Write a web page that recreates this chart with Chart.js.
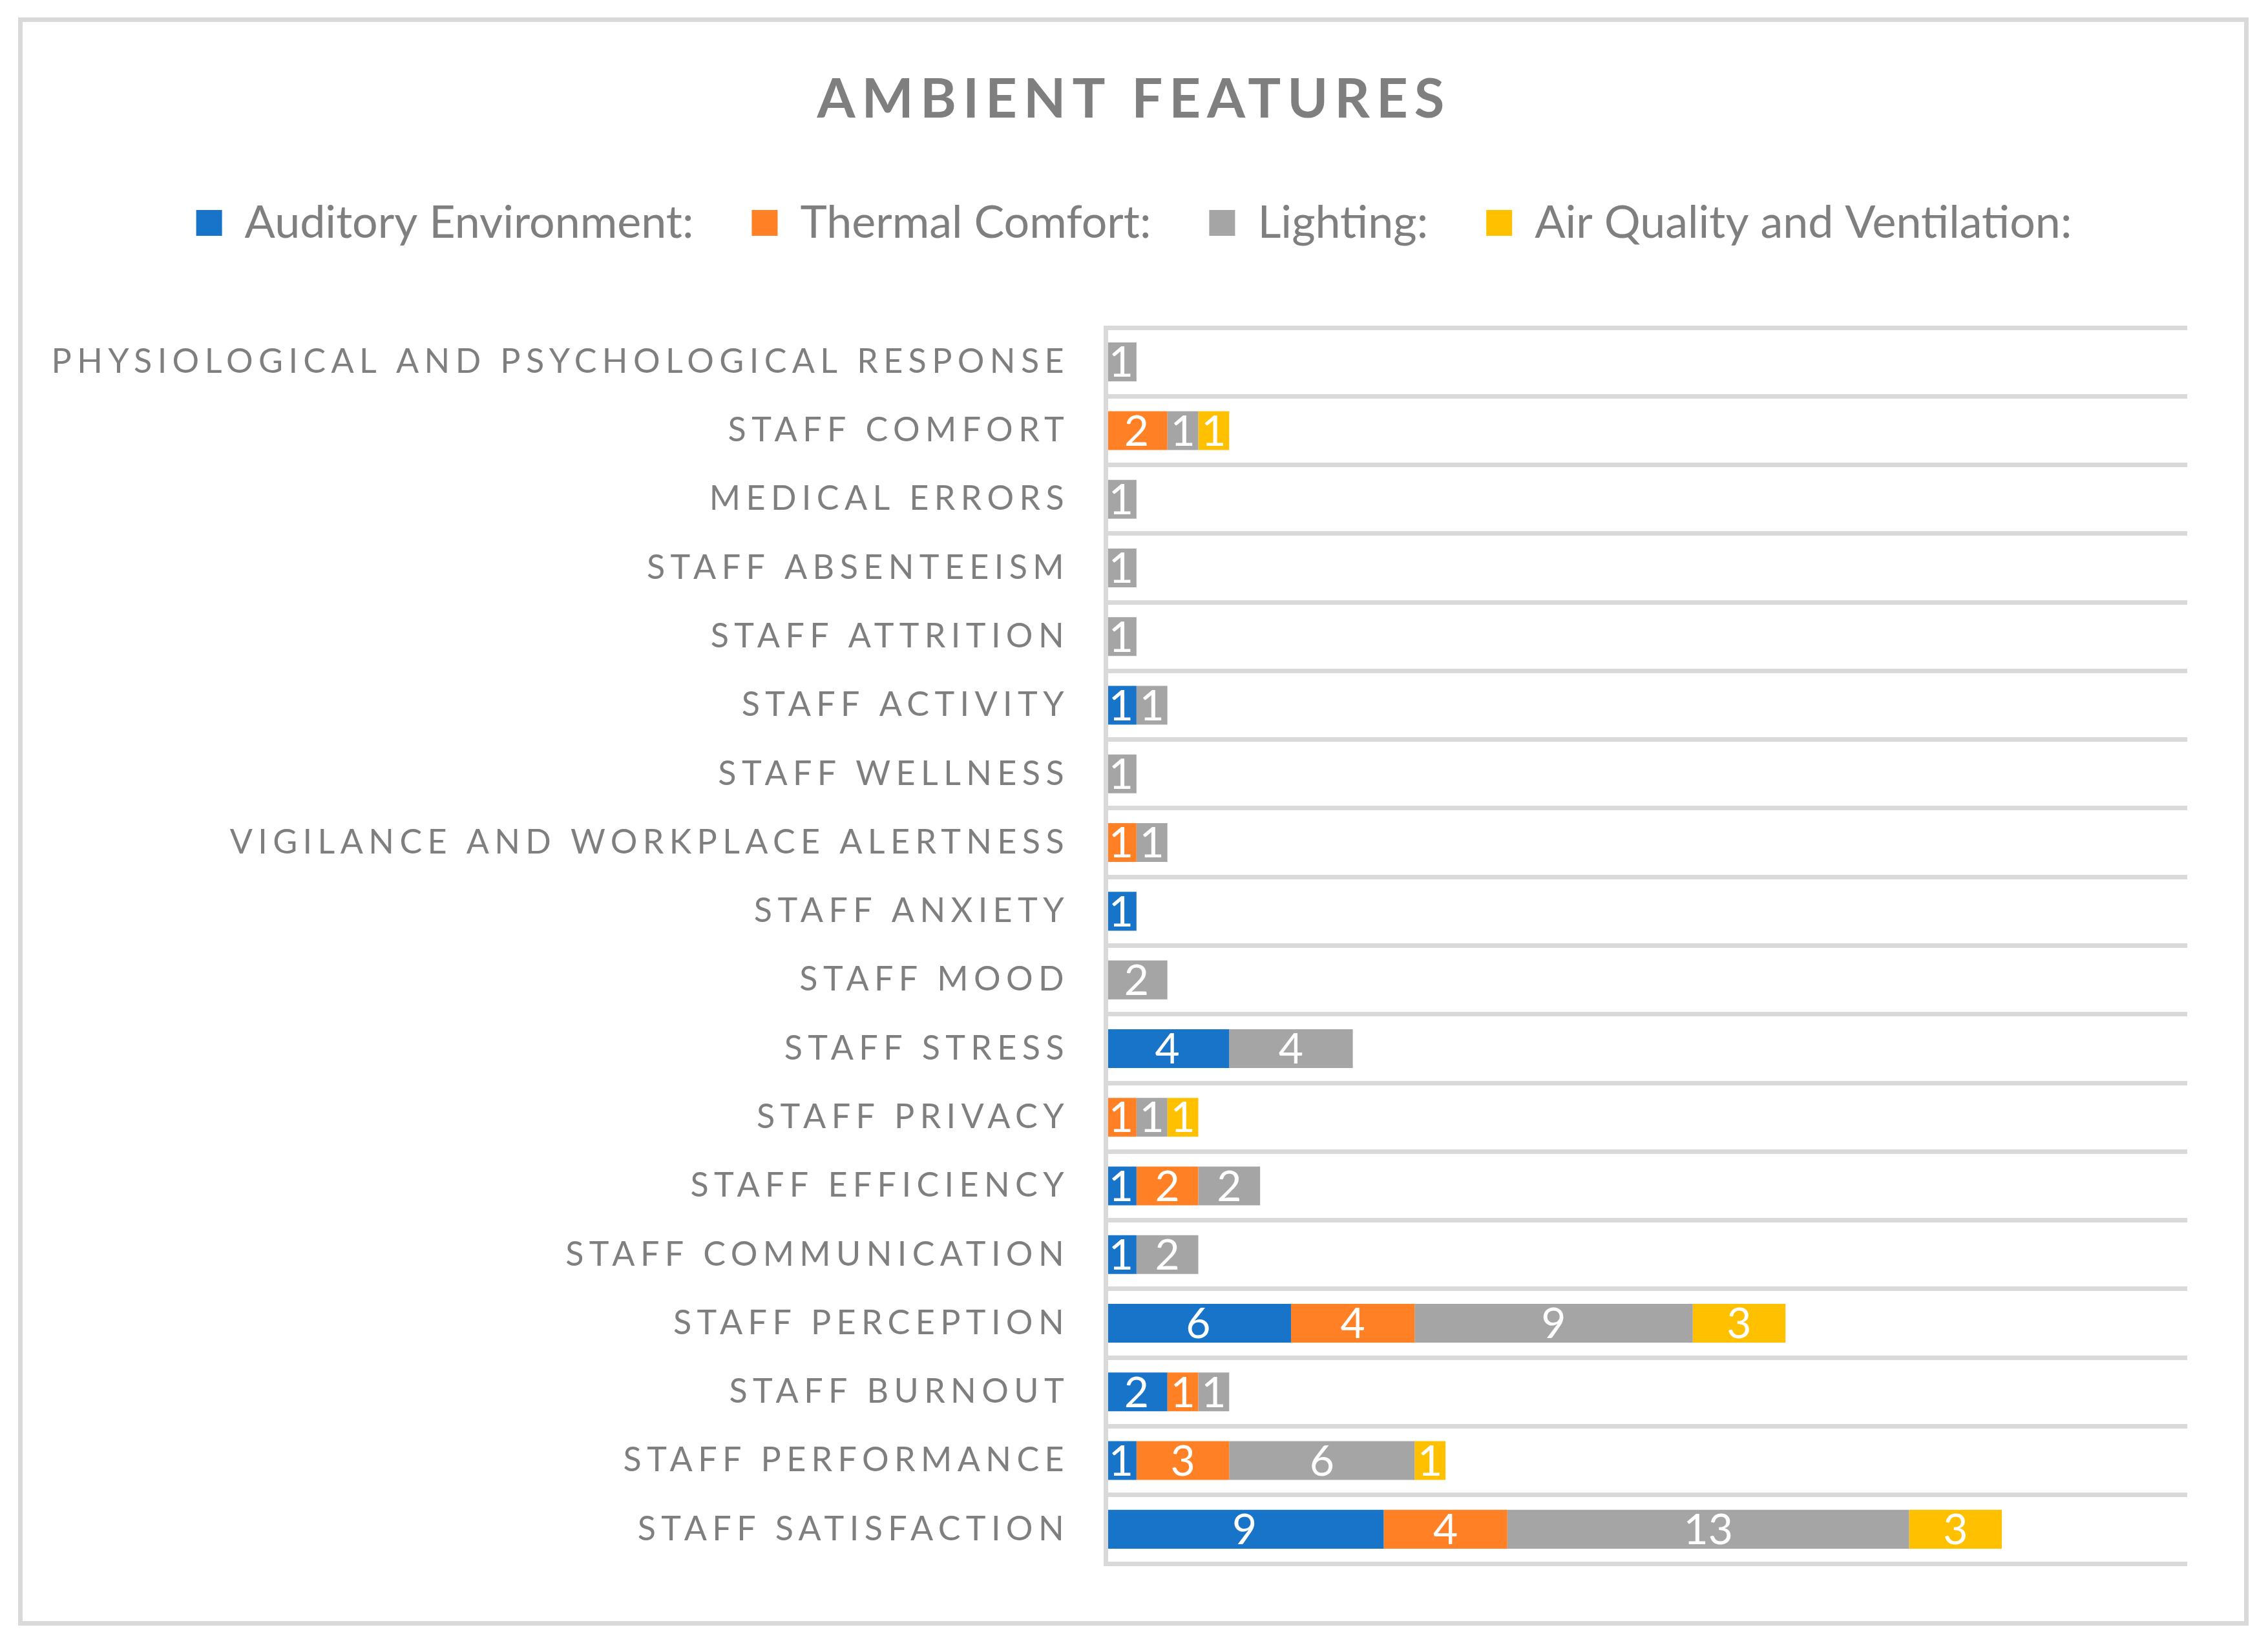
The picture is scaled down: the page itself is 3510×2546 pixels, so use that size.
<!DOCTYPE html>
<html>
<head>
<meta charset="utf-8">
<title>Ambient Features</title>
<script src="https://cdn.jsdelivr.net/npm/chart.js@4.4.1/dist/chart.umd.min.js"></script>
<style>
    html, body { margin: 0; padding: 0; background: #ffffff; }
    #wrap { position: relative; width: 3510px; height: 2546px; }
    #frame {
        position: absolute; left: 28px; top: 27px; width: 3452px; height: 2489px;
        box-sizing: border-box; border: 7px solid #d9d9d9; pointer-events: none;
    }
</style>
</head>
<body>
<div id="wrap">
    <canvas id="bar-chart"></canvas>
    <div id="frame"></div>
</div>
<script>
const categories = [
    'PHYSIOLOGICAL AND PSYCHOLOGICAL RESPONSE',
    'STAFF COMFORT',
    'MEDICAL ERRORS',
    'STAFF ABSENTEEISM',
    'STAFF ATTRITION',
    'STAFF ACTIVITY',
    'STAFF WELLNESS',
    'VIGILANCE AND WORKPLACE ALERTNESS',
    'STAFF ANXIETY',
    'STAFF MOOD',
    'STAFF STRESS',
    'STAFF PRIVACY',
    'STAFF EFFICIENCY',
    'STAFF COMMUNICATION',
    'STAFF PERCEPTION',
    'STAFF BURNOUT',
    'STAFF PERFORMANCE',
    'STAFF SATISFACTION'
];

const seriesNames = ['Auditory Environment:', 'Thermal Comfort:', 'Lighting:', 'Air Quality and Ventilation:'];

const auditory = [0, 0, 0, 0, 0, 1, 0, 0, 1, 0, 4, 0, 1, 1, 6, 2, 1, 9];
const thermal  = [0, 2, 0, 0, 0, 0, 0, 1, 0, 0, 0, 1, 2, 0, 4, 1, 3, 4];
const lighting = [1, 1, 1, 1, 1, 1, 1, 1, 0, 2, 4, 1, 2, 2, 9, 1, 6, 13];
const airQuality = [0, 1, 0, 0, 0, 0, 0, 0, 0, 0, 0, 1, 0, 0, 3, 0, 1, 3];

const colors = ['#1874c9', '#ff8025', '#a5a5a5', '#ffc000'];
const textGray = '#7f7f7f';
const gridGray = '#d9d9d9';
const fontName = 'Lato';

// wrap a draw function so it runs with canvas letter spacing
function withSpacing(ctx, fn, spacing) {
    return function (...args) {
        ctx.save();
        ctx.letterSpacing = spacing;
        fn.apply(this, args);
        ctx.restore();
    };
}

const spacingPlugin = {
    id: 'spacing',
    afterLayout(chart) {
        const yScale = chart.scales.y;
        if (yScale && !yScale._spaced) {
            yScale.drawLabels = withSpacing(chart.ctx, yScale.drawLabels, '8.4px');
            // long labels run past the scale box, so don't clip them
            yScale._computeLabelArea = () => undefined;
            yScale._spaced = true;
        }
        const title = chart.titleBlock;
        if (title && !title._spaced) {
            title.draw = withSpacing(chart.ctx, title.draw, '10px');
            title._spaced = true;
        }
    }
};

// white value labels in the middle of each segment
const valueLabels = {
    id: 'valueLabels',
    afterDatasetsDraw(chart) {
        const ctx = chart.ctx;
        ctx.save();
        ctx.fillStyle = '#ffffff';
        ctx.font = '66px ' + fontName;
        ctx.textAlign = 'center';
        ctx.textBaseline = 'middle';
        chart.data.datasets.forEach((ds, i) => {
            const meta = chart.getDatasetMeta(i);
            meta.data.forEach((bar, j) => {
                const v = ds.data[j];
                if (!v) return;
                const p = bar.getCenterPoint();
                ctx.fillText(String(v), p.x, p.y + 2);
            });
        });
        ctx.restore();
    }
};

const ctx = document.getElementById('bar-chart').getContext('2d');

const barChart = new Chart(ctx, {
    type: 'bar',
    data: {
        labels: categories,
        datasets: [auditory, thermal, lighting, airQuality].map((values, i) => ({
            label: seriesNames[i],
            data: values,
            backgroundColor: colors[i],
            borderWidth: 0,
            barPercentage: 0.565,
            categoryPercentage: 1
        }))
    },
    options: {
        indexAxis: 'y',
        responsive: true,
        maintainAspectRatio: false,
        devicePixelRatio: 1,
        animation: false,
        layout: {
            padding: { top: 0, left: 125, right: 125, bottom: 126 }
        },
        scales: {
            x: {
                position: 'top',
                stacked: true,
                min: 0,
                max: 35,
                grid: { display: false },
                border: { display: false },
                ticks: { display: false },
                // spacer between legend and plot area
                afterFit(scale) { scale.height = 117; }
            },
            y: {
                stacked: true,
                grid: {
                    color: gridGray,
                    lineWidth: 7,
                    offset: true,
                    drawTicks: false
                },
                border: { color: gridGray, width: 7, z: 1 },
                ticks: {
                    color: textGray,
                    autoSkip: false,
                    padding: 56,
                    font: { family: fontName, size: 52 }
                },
                afterFit(scale) { scale.width = 1586; }
            }
        },
        plugins: {
            title: {
                display: true,
                text: 'AMBIENT FEATURES',
                color: textGray,
                font: { family: fontName, size: 85, weight: 'bold', lineHeight: 1.2 },
                padding: { top: 104, bottom: 14 }
            },
            legend: {
                display: true,
                position: 'top',
                labels: {
                    color: textGray,
                    boxWidth: 40,
                    boxHeight: 40,
                    padding: 90,
                    font: { family: fontName, size: 70 }
                }
            },
            tooltip: { enabled: false }
        }
    },
    plugins: [spacingPlugin, valueLabels]
});
</script>
</body>
</html>
